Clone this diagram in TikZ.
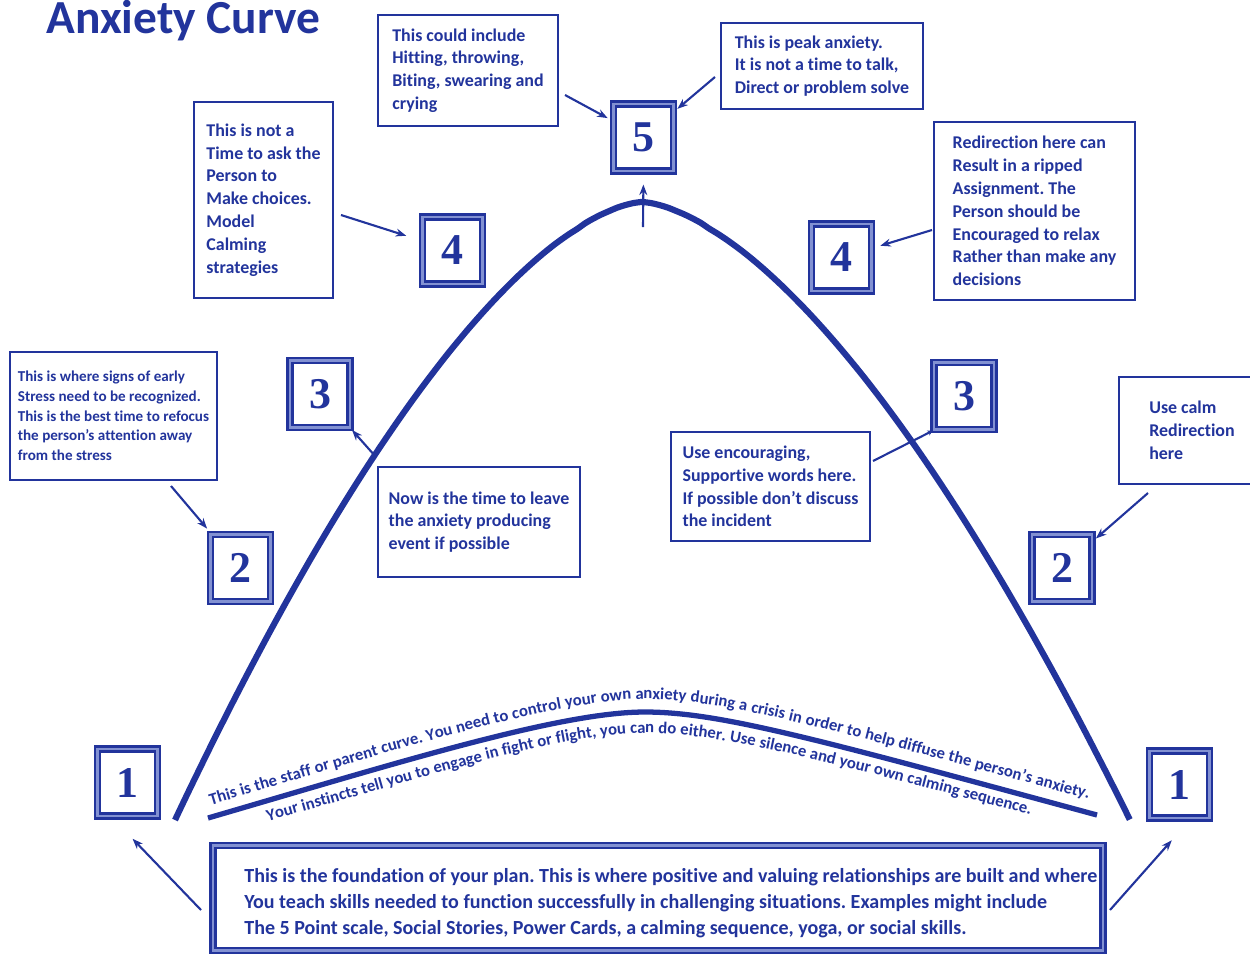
\documentclass[tikz,border=0pt]{standalone}
\usepackage{fontspec}
\setmainfont{Carlito}[Ligatures=NoCommon]
\newfontfamily\numfam{Liberation Serif}
\usetikzlibrary{arrows.meta,calc,decorations.text,shadows}
\definecolor{ink}{RGB}{34,52,156}
\definecolor{inklight}{RGB}{130,145,210}
\frenchspacing
\newcommand\boxfnt{\fontsize{10.2}{13}\selectfont\bfseries}
\newcommand\smallfnt{\fontsize{8.6}{11.2}\selectfont\bfseries}
\newcommand\basefnt{\fontsize{11.4}{14.7}\selectfont\bfseries}
\newcommand\curvefnt{\fontsize{9.5}{10}\selectfont\bfseries}
\begin{document}
\begin{tikzpicture}[x=0.02cm,y=-0.02cm,
  tbox/.style={draw=ink, line width=1.5pt, fill=white, align=left, text=ink, font=\boxfnt, inner sep=0pt},
  numbox/.style={draw=ink, line width=1.4pt, double=inklight, double distance=1.6pt, fill=white, text=ink,
     font={\numfam\fontsize{25}{25}\selectfont\bfseries}, minimum width=1.2cm, minimum height=1.34cm, inner sep=0pt,
     drop shadow={shadow xshift=1.8pt, shadow yshift=-1.8pt, fill=ink!75, opacity=1}},
  arr/.style={draw=ink, line width=1.2pt, -{Stealth[length=6pt,width=4.5pt]}},
  bigcurve/.style={draw=ink, line width=3.5pt},
  staffarc/.style={draw=ink, line width=3pt},
]
\useasboundingbox (0,0) rectangle (1250,954);

% title
\node[anchor=base west, inner sep=0pt, text=ink, font={\fontsize{27}{30}\selectfont\bfseries}] (title) at (46,33) {Anxiety Curve};

% main anxiety curve
\draw[bigcurve] plot[smooth, domain=1:0.002, samples=60] ({642-467*\x},{202+618*exp(1.6*ln(\x))})
  -- plot[smooth, domain=0.002:1, samples=60] ({642+488*\x},{202+618*exp(1.6*ln(\x))});

% staff curve
\draw[staffarc] (208,818) .. controls (400,762) and (560,712) .. (645,712) .. controls (720,712) and (820,740) .. (1097,815);
\path[decorate, decoration={text along path, text color=ink, text align={fit to path stretching spaces},
  text={|\curvefnt|This is the staff or parent curve. You need to control your own anxiety during a crisis in order to help diffuse the person’s anxiety.}}]
  (211,805) .. controls (400,748) and (560,699) .. (645,699) .. controls (720,699) and (820,726) .. (1088,799);
\path[decorate, decoration={text along path, text color=ink, text align={fit to path stretching spaces},
  text={|\curvefnt|Your instincts tell you to engage in fight or flight, you can do either. Use silence and your own calming sequence.}}]
  (268,821) .. controls (420,779) and (560,733) .. (645,733) .. controls (720,733) and (820,759) .. (1030,815);

% number boxes
\node[numbox] (n5) at (643.5,137.5) {5};
\node[numbox] (n4L) at (452.5,250.5) {4};
\node[numbox] (n4R) at (841.5,257.5) {4};
\node[numbox] (n3L) at (320,394) {3};
\node[numbox] (n3R) at (964,396) {3};
\node[numbox] (n2L) at (240.5,568) {2};
\node[numbox] (n2R) at (1062,568) {2};
\node[numbox] (n1L) at (127.5,782.5) {1};
\node[numbox] (n1R) at (1179.5,784.5) {1};

% text boxes
\node[tbox, minimum width=3.6cm, minimum height=2.22cm] (bA) at (468,70.5)
  {This could include\\Hitting, throwing,\\Biting, swearing and\\crying};
\node[tbox, minimum width=4.04cm, minimum height=1.72cm] (bB) at (822,66)
  {This is peak anxiety.\\It is not a time to talk,\\Direct or problem solve};
\node[tbox, minimum width=2.78cm, minimum height=3.92cm] (bC) at (263.5,200)
  {This is not a\\Time to ask the\\Person to\\Make choices.\\Model\\Calming\\strategies};
\node[tbox, minimum width=4.02cm, minimum height=3.56cm] (bD) at (1034.5,211)
  {Redirection here can\\Result in a ripped\\Assignment. The\\Person should be\\Encouraged to relax\\Rather than make any\\decisions};
\node[tbox, font=\smallfnt, minimum width=4.14cm, minimum height=2.56cm] (bE) at (113.5,416)
  {This is where signs of early\\Stress need to be recognized.\\This is the best time to refocus\\the person’s attention away\\from the stress};
\node[tbox, line width=1.1pt, minimum width=4.04cm, minimum height=2.2cm] (bF) at (479,522)
  {Now is the time to leave\\the anxiety producing\\event if possible};
\node[tbox, line width=1.1pt, minimum width=3.98cm, minimum height=2.18cm] (bG) at (770.5,486.5)
  {Use encouraging,\\Supportive words here.\\If possible don’t discuss\\the incident};
\node[tbox, minimum width=2.92cm, minimum height=2.14cm] (bH) at (1192,430.5)
  {Use calm\\Redirection\\here};
\node[tbox, line width=1.4pt, double=inklight, double distance=1.4pt, minimum width=17.8cm, minimum height=2.1cm] (bI) at (658,898) {};
\node[anchor=west, align=left, text=ink, font=\basefnt, inner sep=0pt] (bIt) at (244,903)
  {This is the foundation of your plan. This is where positive and valuing relationships are built and where\\You teach skills needed to function successfully in challenging situations. Examples might include\\The 5 Point scale, Social Stories, Power Cards, a calming sequence, yoga, or social skills.};

% arrow tails
\coordinate (tA) at (565,95);
\coordinate (tB) at (715,77);
\coordinate (tP) at (643,227);
\coordinate (tC) at (341,215);
\coordinate (tD) at (932,230);
\coordinate (tE) at (171,486);
\coordinate (tF) at (376,457);
\coordinate (tG) at (873,461);
\coordinate (tH) at (1148,493);
\coordinate (tL) at (201,910);
\coordinate (tR) at (1110,910);

\draw[arr, shorten >=3pt] (tA) -- (n5);
\draw[arr, shorten >=2pt] (tB) -- (n5);
\draw[arr, shorten >=7pt] (tP) -- (n5.south);
\draw[arr, shorten >=9pt] (tC) -- (n4L);
\draw[arr, shorten >=4.5pt] (tD) -- (n4R);
\draw[arr, shorten >=3.5pt] (tE) -- (n2L);
\draw[arr, shorten >=1pt] (tF) -- (n3L);
\draw[arr, -{Stealth[length=3pt,width=3pt]}] (tG) -- (n3R.south west);
\draw[arr, shorten >=2pt] (tH) -- (n2R);
\draw[arr, shorten >=17pt] (tL) -- ($(n1L.south)!0.5!(n1L.south west)$);
\draw[arr, shorten >=16pt] (tR) -- ($(n1R.south)!0.35!(n1R.south east)$);
\end{tikzpicture}
\end{document}
